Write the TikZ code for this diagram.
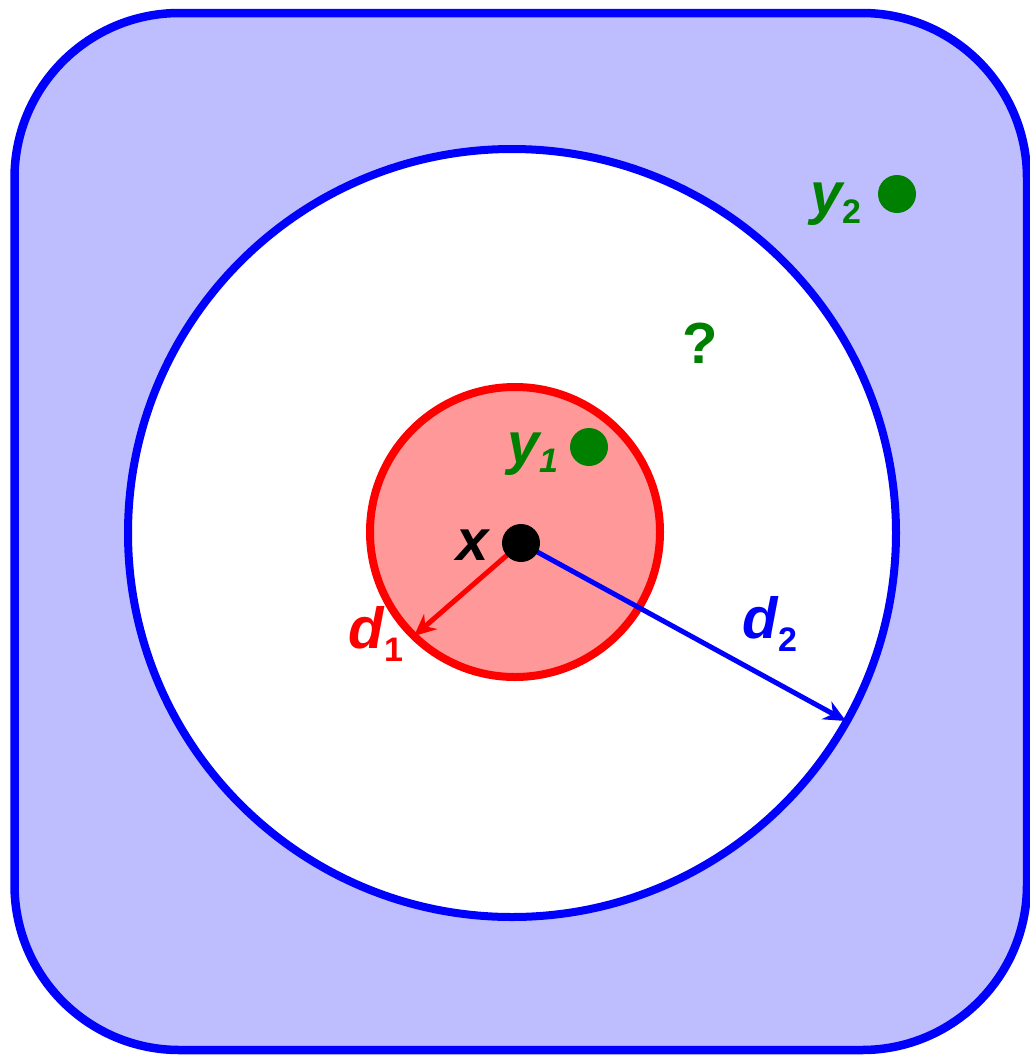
\documentclass[tikz,border=0pt]{standalone}
\usepackage{fontspec}
\setmainfont{Liberation Sans}
\usetikzlibrary{arrows.meta}
\definecolor{lav}{RGB}{190,190,255}
\definecolor{pinkf}{RGB}{255,153,153}
\definecolor{grn}{RGB}{0,128,0}
\begin{document}
\begin{tikzpicture}[x=1pt,y=-1pt,
  big/.style={font=\fontsize{58}{58}\selectfont\bfseries\itshape, inner sep=0pt, anchor=base west},
  sub/.style={font=\fontsize{34}{34}\selectfont\bfseries, inner sep=0pt, anchor=base west},
  subit/.style={font=\fontsize{34}{34}\selectfont\bfseries\itshape, inner sep=0pt, anchor=base west},
  dot/.style={circle, inner sep=0pt, minimum size=38pt}]
\useasboundingbox (0,0) rectangle (1029,1055);
\draw[blue, line width=8.5pt, fill=lav, rounded corners=165pt] (14.5,13) rectangle (1027,1050);
\node[circle, draw=blue, line width=8pt, fill=white, minimum size=768pt, inner sep=0pt] (outer) at (512,533) {};
\node[circle, draw=red, line width=8pt, fill=pinkf, minimum size=290pt, inner sep=0pt] (inner) at (515,532) {};
\coordinate (xc) at (521,543);
\coordinate (e1) at (414,636);
\coordinate (e2) at (846,721);
\draw[red, line width=5pt, -{Stealth[length=22pt,width=20pt]}] (xc) -- (e1);
\draw[blue, line width=5pt, -{Stealth[length=22pt,width=20pt]}] (xc) -- (e2);
\node[dot, fill=black] (xdot) at (xc) {};
\node[big] (xl) at (456,560) {x};
\node[dot, fill=grn] (y1dot) at (589,447) {};
\node[big, text=grn] (y1l) at (507,463) {y};
\node[subit, text=grn] (y1s) at (539,472) {1};
\node[dot, fill=grn] (y2dot) at (897,194) {};
\node[big, text=grn] (y2l) at (810,213) {y};
\node[sub, text=grn] (y2s) at (842,223) {2};
\node[big, text=grn, font=\fontsize{58}{58}\selectfont\bfseries] (q) at (682,363) {?};
\node[big, text=red] (d1l) at (348,648) {d};
\node[sub, text=red] (d1s) at (384,661) {1};
\node[big, text=blue] (d2l) at (742,638) {d};
\node[sub, text=blue] (d2s) at (778,651) {2};
\end{tikzpicture}
\end{document}
